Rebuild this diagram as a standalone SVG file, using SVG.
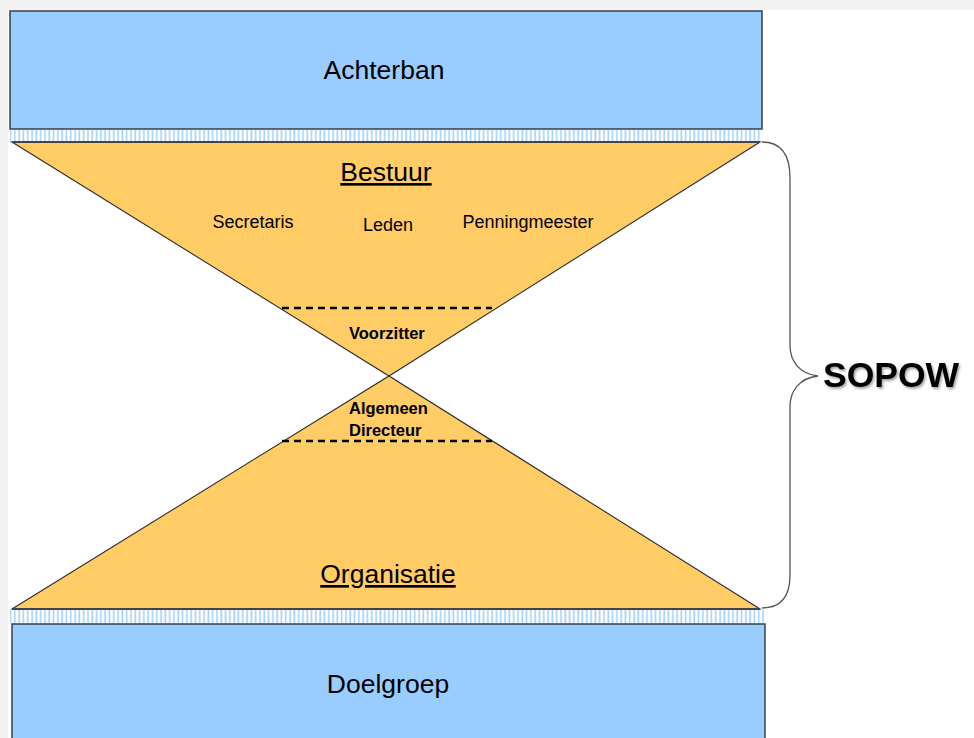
<svg xmlns="http://www.w3.org/2000/svg" width="974" height="738" viewBox="0 0 974 738">
<defs>
<style>
.box{fill:#99ccff;stroke:#3a3f46;stroke-width:1.5}
.tri{fill:#ffcc66;stroke:#2e2e2e;stroke-width:1.1}
.base{stroke:#444;stroke-width:2}
.dash{stroke:#000;stroke-width:2.4;stroke-dasharray:7 5;fill:none}
.t{font-family:"Liberation Sans",Arial,sans-serif;fill:#000;text-anchor:middle}
.big{font-size:26.5px}
.mid{font-size:18px}
.sm{font-size:16.5px;font-weight:bold;text-anchor:start}
</style>
<pattern id="hatch" width="4.3" height="20" patternUnits="userSpaceOnUse">
<rect width="4.3" height="20" fill="#ffffff"/>
<rect x="1.2" width="1.6" height="20" fill="#a6d0fa"/>
</pattern>
<filter id="sh" x="-10%" y="-20%" width="130%" height="150%">
<feDropShadow dx="1.5" dy="2" stdDeviation="1.2" flood-color="#000" flood-opacity="0.35"/>
</filter>
</defs>
<rect width="974" height="738" fill="#f2f2f2"/>
<rect x="8" y="10" width="966" height="728" fill="#ffffff"/>
<g id="strips">
<rect x="10" y="130" width="752" height="12" fill="url(#hatch)"/>
<rect x="10" y="610" width="755" height="13" fill="url(#hatch)"/>
</g>
<g id="achterban">
<rect class="box" x="10" y="11" width="752" height="118"/>
<text class="t big" x="384" y="79">Achterban</text>
</g>
<g id="bestuur">
<polygon class="tri" points="12,142 760,142 389,376"/>
<line class="base" x1="12" y1="142" x2="760" y2="142"/>
<text class="t big" x="386" y="181" text-decoration="underline">Bestuur</text>
<text class="t mid" x="253" y="228">Secretaris</text>
<text class="t mid" x="388" y="231">Leden</text>
<text class="t mid" x="528" y="228">Penningmeester</text>
</g>
<g id="organisatie">
<polygon class="tri" points="12,609 760,609 389,376"/>
<line class="base" x1="12" y1="609" x2="760" y2="609"/>
<text class="t big" x="388" y="583" text-decoration="underline">Organisatie</text>
</g>
<g id="voorzitter">
<line class="dash" x1="282" y1="308" x2="492" y2="308"/>
<text class="t sm" x="349" y="339">Voorzitter</text>
</g>
<g id="directeur">
<line class="dash" x1="282" y1="441" x2="492" y2="441"/>
<text class="t sm" x="349" y="414">Algemeen</text>
<text class="t sm" x="349" y="436">Directeur</text>
</g>
<g id="doelgroep">
<rect class="box" x="12" y="624" width="753" height="120"/>
<text class="t big" x="388" y="693">Doelgroep</text>
</g>
<g id="connectors">
<path d="M762,142 C782,142 790,156 790,178 L790,345 C790,362 800,374 818,376 C800,378 790,390 790,407 L790,575 C790,596 782,608 762,608" fill="none" stroke="#555" stroke-width="1.3"/>
</g>
<g id="sopow">
<text class="t" x="823" y="387" style="font-size:35.5px;font-weight:bold;text-anchor:start" filter="url(#sh)">SOPOW</text>
</g>
</svg>
